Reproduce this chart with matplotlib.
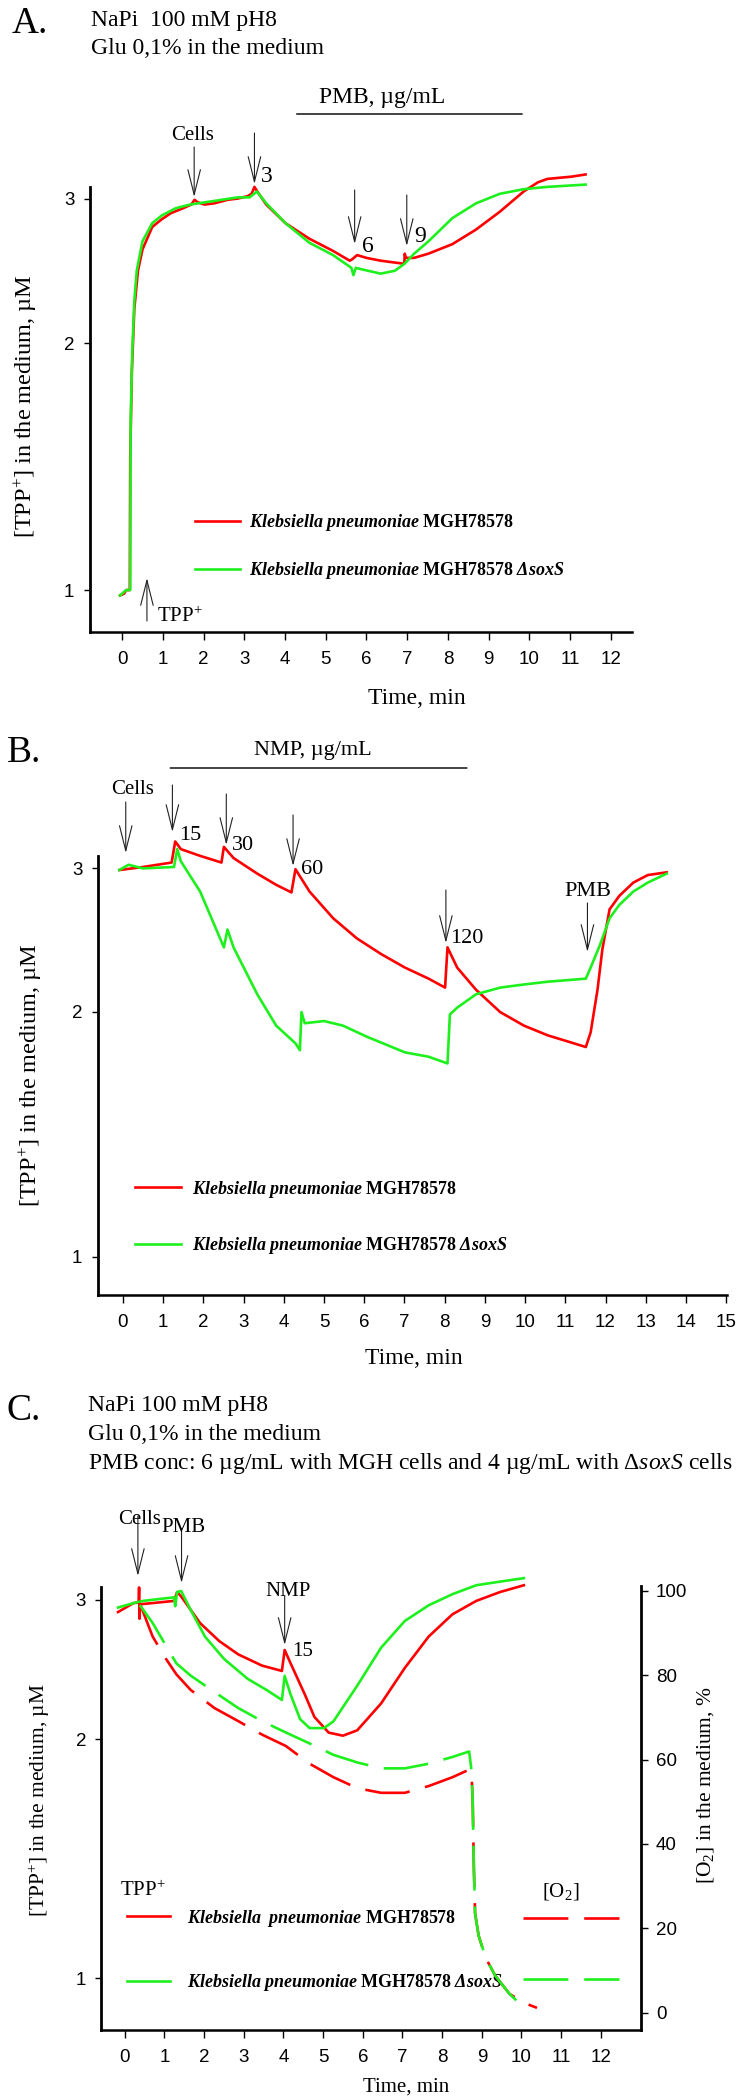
import matplotlib
matplotlib.use('Agg')
import matplotlib.pyplot as plt
from matplotlib.ticker import NullLocator, FixedLocator, FixedFormatter
from matplotlib.transforms import blended_transform_factory
from matplotlib.font_manager import FontProperties

plt.rcParams['font.family'] = 'Liberation Serif'
plt.rcParams['mathtext.fontset'] = 'custom'
plt.rcParams['mathtext.rm'] = 'Liberation Serif'
plt.rcParams['mathtext.it'] = 'Liberation Serif:italic'
plt.rcParams['mathtext.bf'] = 'Liberation Serif:bold'
plt.rcParams['mathtext.bfit'] = 'Liberation Serif:bold:italic'

RED = '#ff0000'
GREEN = '#1ef01e'
LW = 1.9

# ---------------- data: panel A (TPP+, uM) ----------------
a_t_red = [-0.05, 0.05, 0.10, 0.19, 0.20, 0.24, 0.30, 0.39, 0.50, 0.74, 0.97, 1.20, 1.50,
           1.70, 1.78, 1.85, 2.02, 2.26, 2.60, 2.84, 3.08, 3.18, 3.25, 3.32, 3.54, 4.01,
           4.60, 5.18, 5.59, 5.65, 5.77, 6.00, 6.35, 6.88, 6.93, 6.94, 6.97, 7.17, 7.52,
           8.11, 8.69, 9.27, 9.86, 10.21, 10.44, 11.03, 11.38]
a_red = [0.985, 0.99, 1.00, 1.00, 1.45, 1.85, 2.20, 2.45, 2.60, 2.77, 2.83, 2.88, 2.92,
         2.95, 2.99, 2.97, 2.95, 2.96, 2.99, 3.00, 3.02, 3.04, 3.10, 3.06, 2.95, 2.80,
         2.68, 2.59, 2.52, 2.53, 2.56, 2.54, 2.52, 2.50, 2.50, 2.57, 2.54, 2.54, 2.57,
         2.64, 2.75, 2.89, 3.06, 3.14, 3.17, 3.19, 3.21]
a_t_green = [-0.05, 0.05, 0.10, 0.20, 0.21, 0.25, 0.30, 0.36, 0.50, 0.74, 0.97, 1.32, 1.67,
             2.26, 2.84, 3.13, 3.31, 3.54, 4.01, 4.60, 5.18, 5.63, 5.68, 5.74, 5.88, 6.35,
             6.70, 6.94, 7.17, 7.52, 8.11, 8.69, 9.27, 9.86, 10.44, 11.38]
a_green = [0.985, 0.995, 1.00, 1.00, 1.60, 1.95, 2.25, 2.45, 2.66, 2.80, 2.86, 2.92, 2.95,
           2.98, 3.01, 3.01, 3.06, 2.96, 2.80, 2.65, 2.56, 2.47, 2.42, 2.47, 2.46, 2.43,
           2.45, 2.50, 2.57, 2.66, 2.84, 2.96, 3.04, 3.08, 3.10, 3.12]

# ---------------- data: panel B ----------------
b_t_red = [-0.09, 0.50, 1.21, 1.30, 1.44, 1.92, 2.45, 2.51, 2.75, 3.34, 3.81, 4.19, 4.29,
           4.64, 5.23, 5.82, 6.42, 7.01, 7.60, 8.01, 8.07, 8.31, 8.78, 9.38, 9.97, 10.56,
           11.15, 11.51, 11.63, 11.80, 11.92, 12.10, 12.34, 12.69, 13.05, 13.52]
b_red = [2.985, 3.011, 3.049, 3.236, 3.167, 3.107, 3.049, 3.187, 3.088, 2.955, 2.863, 2.802,
         2.992, 2.809, 2.604, 2.460, 2.354, 2.266, 2.196, 2.141, 2.399, 2.266, 2.128, 1.998,
         1.923, 1.871, 1.833, 1.810, 1.887, 2.128, 2.384, 2.671, 2.774, 2.881, 2.943, 2.966]
b_t_green = [-0.09, 0.14, 0.50, 1.27, 1.35, 1.44, 1.92, 2.51, 2.60, 2.75, 3.34, 3.81, 4.29,
             4.40, 4.44, 4.52, 5.00, 5.47, 6.06, 7.01, 7.60, 8.07, 8.13, 8.31, 8.78, 9.38,
             9.97, 10.56, 11.51, 11.63, 11.86, 12.10, 12.34, 12.69, 13.05, 13.52]
b_green = [2.985, 3.03, 2.999, 3.011, 3.167, 3.06, 2.809, 2.399, 2.523, 2.399, 2.101, 1.923,
           1.829, 1.794, 1.998, 1.936, 1.948, 1.923, 1.864, 1.783, 1.761, 1.728, 1.985, 2.023,
           2.101, 2.141, 2.160, 2.177, 2.196, 2.266, 2.414, 2.604, 2.704, 2.809, 2.881, 2.955]

# ---------------- data: panel C (TPP+ uM and O2 %) ----------------
c_t_red = [-0.17, 0.22, 0.35, 0.36, 0.37, 0.38, 0.70, 1.24, 1.32, 1.42, 1.90, 2.38, 2.86,
           3.46, 3.96, 4.03, 4.18, 4.54, 4.78, 5.14, 5.50, 5.86, 6.46, 7.06, 7.66, 8.26,
           8.86, 9.46, 10.06]
c_red = [2.894, 2.970, 2.975, 3.108, 2.838, 2.960, 2.970, 2.989, 3.067, 3.028, 2.802, 2.660,
         2.559, 2.477, 2.439, 2.592, 2.493, 2.277, 2.134, 2.039, 2.021, 2.053, 2.219, 2.461,
         2.695, 2.875, 2.989, 3.067, 3.128]
c_t_green = [-0.17, 0.22, 0.46, 1.24, 1.27, 1.32, 1.42, 1.66, 2.02, 2.50, 3.10, 3.58, 3.96,
             4.03, 4.18, 4.42, 4.66, 5.02, 5.26, 5.86, 6.46, 7.06, 7.66, 8.26, 8.86, 9.46,
             10.06]
c_green = [2.932, 2.970, 2.989, 3.020, 2.943, 3.067, 3.076, 2.912, 2.695, 2.526, 2.383, 2.307,
           2.242, 2.404, 2.277, 2.120, 2.066, 2.066, 2.107, 2.337, 2.609, 2.820, 2.951, 3.048,
           3.128, 3.161, 3.193]
c_t_o2_red = [0.38, 0.70, 1.00, 1.30, 1.66, 2.26, 2.86, 3.46, 4.06, 4.66, 5.26, 5.86, 6.46,
              7.06, 7.66, 8.26, 8.68, 8.74, 8.77, 8.80, 8.83, 8.92, 9.10, 9.34, 9.70, 10.06,
              10.39]
c_o2_red = [97.0, 89.2, 84.4, 80.2, 76.5, 72.2, 69.1, 65.9, 63.2, 59.0, 55.8, 53.2, 52.1, 52.1,
            53.7, 55.8, 57.6, 57.0, 50.0, 34.1, 23.5, 18.2, 12.9, 8.7, 4.4, 2.3, 1.1]
c_t_o2_green = [0.38, 0.70, 1.30, 1.66, 2.26, 2.86, 3.46, 4.06, 4.66, 5.26, 5.86, 6.46, 7.06,
                7.66, 8.26, 8.68, 8.74, 8.77, 8.80, 8.83, 8.92, 9.10, 9.34, 9.70, 9.91]
c_o2_green = [96.6, 92.4, 82.8, 79.9, 76.0, 72.2, 69.1, 66.4, 63.8, 61.1, 59.3, 57.9, 57.9,
              59.0, 60.6, 61.9, 57.4, 50.0, 34.1, 23.5, 18.2, 12.9, 8.7, 4.4, 2.5]

# treatment periods (min) shown as bars above panels A and B
pmb_span_a = [4.29, 9.82]
nmp_span_b = [1.18, 8.55]

lab_red = r'$\mathbfit{Klebsiella\ pneumoniae}$ MGH78578'
lab_red_c = r'$\mathbfit{Klebsiella\ \ pneumoniae}$ MGH78578'
lab_green = r'$\mathbfit{Klebsiella\ pneumoniae}$ MGH78578 $\mathbfit{ΔsoxS}$'

W, H = 743, 2099
fig = plt.figure(figsize=(W / 100, H / 100), dpi=100)


def fy(py):
    return 1 - py / H


def add_axes(left, right, top, bottom):
    return fig.add_axes([left / W, fy(bottom), (right - left) / W, (bottom - top) / H])


def style(ax, xlim, ylim, xticks, ybound):
    ax.set_yscale('log')
    ax.set_xlim(*xlim)
    ax.set_ylim(*ylim)
    ax.spines['top'].set_visible(False)
    ax.spines['right'].set_visible(False)
    ax.spines['left'].set_linewidth(2.0)
    ax.spines['bottom'].set_linewidth(1.8)
    ax.spines['left'].set_bounds(ylim[0], ybound)
    ax.xaxis.set_major_locator(FixedLocator(xticks))
    ax.yaxis.set_major_locator(FixedLocator([1, 2, 3]))
    ax.yaxis.set_major_formatter(FixedFormatter(['1', '2', '3']))
    ax.yaxis.set_minor_locator(NullLocator())
    ax.tick_params(axis='x', direction='out', length=6, width=1.0, pad=8, labelsize=13.5)
    ax.tick_params(axis='y', direction='out', length=4, width=1.0, pad=7, labelsize=13.5)
    for lab in ax.get_xticklabels() + ax.get_yticklabels():
        lab.set_fontfamily('Liberation Sans')


def arrow(ax, tr, t, y_tail, y_tip):
    ax.annotate('', xy=(t, fy(y_tip)), xycoords=tr, xytext=(t, fy(y_tail)), textcoords=tr,
                arrowprops=dict(arrowstyle='->,head_length=1.8,head_width=0.45', lw=0.8,
                                color='#222222', shrinkA=0, shrinkB=0, mutation_scale=10),
                annotation_clip=False)


def note(ax, tr, t, ypx, s, size=15, ha='center'):
    ax.text(t, fy(ypx), s, transform=tr, ha=ha, va='center', fontsize=size, clip_on=False)


def bar(ax, tr, span, ypx):
    ax.annotate('', xy=(span[1], fy(ypx)), xycoords=tr, xytext=(span[0], fy(ypx)),
                textcoords=tr, arrowprops=dict(arrowstyle='-', lw=1.2, color='#222222',
                                               shrinkA=0, shrinkB=0), annotation_clip=False)


leg_font = FontProperties(family='Liberation Serif', weight='bold', size=13)

# ================= Panel A =================
axA = add_axes(89.5, 632, 164.6, 632)
style(axA, (-0.80, 12.52), (0.889, 3.3), range(0, 13), 3.10)
axA.plot(a_t_red, a_red, color=RED, lw=LW, label=lab_red)
axA.plot(a_t_green, a_green, color=GREEN, lw=LW, label=lab_green)
axA.legend(loc='center left', bbox_to_anchor=(0.178, 0.182), frameon=False, prop=leg_font,
           borderpad=0, handlelength=2.5, handletextpad=0.5, labelspacing=1.5)
trA = blended_transform_factory(axA.transData, fig.transFigure)
arrow(axA, trA, 1.77, 147, 197)
note(axA, trA, 1.74, 135, 'Cells')
arrow(axA, trA, 3.25, 133, 184)
note(axA, trA, 3.56, 176, '3', size=17)
arrow(axA, trA, 5.71, 190, 244)
note(axA, trA, 6.04, 246, '6', size=17)
arrow(axA, trA, 6.99, 195, 246)
note(axA, trA, 7.31, 236, '9', size=17)
arrow(axA, trA, 0.61, 621, 578)
note(axA, trA, 0.86, 617, r'TPP$^{+}$', ha='left')
bar(axA, trA, pmb_span_a, 114)
note(axA, trA, 6.38, 98, 'PMB, µg/mL', size=17)

fig.text(12 / W, fy(33), 'A.', fontsize=27, va='baseline')
fig.text(91 / W, fy(26), 'NaPi  100 mM pH8', fontsize=17, va='baseline')
fig.text(91 / W, fy(54), 'Glu 0,1% in the medium', fontsize=17, va='baseline')
fig.text(26 / W, fy(406), r'[TPP$^{+}$] in the medium, µM', fontsize=17.5, rotation=90,
         ha='center', va='center')
fig.text(417 / W, fy(698), 'Time, min', fontsize=17, ha='center', va='center')

# ================= Panel B =================
axB = add_axes(97.6, 727, 824, 1294.6)
style(axB, (-0.63, 15.02), (0.899, 3.4), range(0, 16), 3.108)
axB.plot(b_t_red, b_red, color=RED, lw=LW, label=lab_red)
axB.plot(b_t_green, b_green, color=GREEN, lw=LW, label=lab_green)
axB.legend(loc='center left', bbox_to_anchor=(0.045, 0.164), frameon=False, prop=leg_font,
           borderpad=0, handlelength=2.55, handletextpad=0.6, labelspacing=1.95)
trB = blended_transform_factory(axB.transData, fig.transFigure)
arrow(axB, trB, 0.07, 802, 853)
note(axB, trB, 0.23, 790, 'Cells')
arrow(axB, trB, 1.23, 785, 832)
note(axB, trB, 1.68, 836, '15', size=16)
arrow(axB, trB, 2.57, 794, 845)
note(axB, trB, 2.99, 846, '30', size=16)
arrow(axB, trB, 4.23, 815, 866)
note(axB, trB, 4.70, 869, '60', size=16)
arrow(axB, trB, 8.03, 890, 943)
note(axB, trB, 8.55, 938, '120', size=16)
arrow(axB, trB, 11.55, 903, 952)
note(axB, trB, 11.57, 892, 'PMB', size=16)
bar(axB, trB, nmp_span_b, 768)
note(axB, trB, 4.73, 750, 'NMP, µg/mL', size=16)

fig.text(7 / W, fy(762), 'B.', fontsize=27, va='baseline')
fig.text(31 / W, fy(1075), r'[TPP$^{+}$] in the medium, µM', fontsize=17.5, rotation=90,
         ha='center', va='center')
fig.text(414 / W, fy(1358), 'Time, min', fontsize=17, ha='center', va='center')

# ================= Panel C =================
axC = add_axes(101.4, 640.5, 1566.8, 2030)
style(axC, (-0.59, 13.0), (0.86, 3.3), range(0, 13), 3.116)
axC.plot(c_t_red, c_red, color=RED, lw=LW, label=lab_red_c)
axC.plot(c_t_green, c_green, color=GREEN, lw=LW, label=lab_green)
axC.legend(loc='center left', bbox_to_anchor=(0.031, 0.172), frameon=False, prop=leg_font,
           borderpad=0, handlelength=2.4, handletextpad=0.9, labelspacing=2.4)

axO = axC.twinx()
axO.set_ylim(-4.15, 105.7)
for side in ['top', 'left', 'bottom']:
    axO.spines[side].set_visible(False)
axO.spines['right'].set_linewidth(2.0)
axO.spines['right'].set_bounds(-4.15, 101.1)
axO.yaxis.set_major_locator(FixedLocator([0, 20, 40, 60, 80, 100]))
axO.tick_params(axis='y', direction='out', length=5, width=1.0, pad=6, labelsize=13.5)
for lab in axO.get_yticklabels():
    lab.set_fontfamily('Liberation Sans')
o2_red, = axO.plot(c_t_o2_red, c_o2_red, color=RED, lw=LW, dashes=(17, 6))
o2_green, = axO.plot(c_t_o2_green, c_o2_green, color=GREEN, lw=LW, dashes=(17, 6))
axO.legend([o2_red, o2_green], ['', ''], loc='center left', bbox_to_anchor=(0.765, 0.172),
           frameon=False, prop=leg_font, borderpad=0, handlelength=5.3, handletextpad=0,
           labelspacing=2.4)

trC = blended_transform_factory(axC.transData, fig.transFigure)
arrow(axC, trC, 0.33, 1516, 1576)
note(axC, trC, 0.36, 1520, 'Cells', size=15)
arrow(axC, trC, 1.43, 1529, 1583)
note(axC, trC, 1.47, 1527, 'PMB', size=15)
arrow(axC, trC, 4.03, 1596, 1645)
note(axC, trC, 4.11, 1591, 'NMP', size=15)
note(axC, trC, 4.48, 1651, '15', size=15)
note(axC, trC, 0.45, 1891, r'TPP$^{+}$', size=15)
note(axC, trC, 11.0, 1891, r'[O$_{2}$]', size=15)

fig.text(7 / W, fy(1420), 'C.', fontsize=27, va='baseline')
fig.text(88 / W, fy(1411), 'NaPi 100 mM pH8', fontsize=17, va='baseline')
fig.text(88 / W, fy(1440), 'Glu 0,1% in the medium', fontsize=17, va='baseline')
fig.text(88 / W, fy(1469), r'PMB conc: 6 µg/mL with MGH cells and 4 µg/mL with Δ$\it{soxS}$ cells',
         fontsize=17, va='baseline')
fig.text(39 / W, fy(1800), r'[TPP$^{+}$] in the medium, µM', fontsize=15.5, rotation=90,
         ha='center', va='center')
fig.text(706 / W, fy(1785), r'[O$_{2}$] in the medium, %', fontsize=15.5, rotation=90,
         ha='center', va='center')
fig.text(406 / W, fy(2087), 'Time, min', fontsize=15, ha='center', va='center')

fig.savefig('out.png', dpi=100)
